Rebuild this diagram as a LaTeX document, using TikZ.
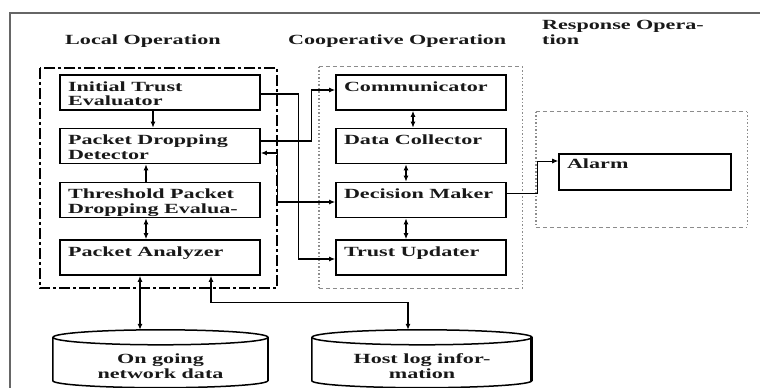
\documentclass[tikz,border=0pt]{standalone}
\usepackage{fontspec}
\setmainfont{Liberation Serif}[FakeStretch=1.58]
\usetikzlibrary{arrows.meta}
\tikzset{
  txt/.style={font=\bfseries\fontsize{14}{14.5}\selectfont, text=black!90},
  procbox/.style={draw, line width=1.6pt, inner xsep=8pt, inner ysep=0pt, minimum height=35pt, txt},
  conn/.style={line width=1.3pt},
  thinconn/.style={line width=0.9pt},
  tipend/.style={-{Latex[length=6pt,width=5pt]}},
  tipboth/.style={{Latex[length=6pt,width=5pt]}-{Latex[length=6pt,width=5pt]}},
  container/.style={draw=none, inner sep=0pt},
  localedge/.style={line width=1.8pt, dash pattern=on 11pt off 3pt on 3pt off 3pt},
  graydash/.style={draw=black!45, line width=1.1pt, dash pattern=on 4pt off 3pt},
  graydot/.style={draw=black!45, line width=1.4pt, dash pattern=on 1.5pt off 2pt},
  cylline/.style={line width=1.5pt},
  frame/.style={draw=black!60, line width=1.3pt},
  title/.style={txt, anchor=base west, inner sep=0pt, align=left},
}
\newcommand\boxtxt[2]{\parbox[c][35pt][t]{#1}{\raggedright\rule{0pt}{16pt}#2}}
\begin{document}
\begin{tikzpicture}[x=1pt,y=-1pt]
\useasboundingbox (0,0) rectangle (760,388);
% outer frame
\coordinate (fbl) at (10,388);
\coordinate (ftl) at (10,13);
\coordinate (ftr) at (760,13);
\draw[frame] (fbl) -- (ftl) -- (ftr);

% titles
\node[title] (tlocal) at (65,44) {Local Operation};
\node[title] (tcoop) at (288,44) {Cooperative Operation};
\node[title] (tresp) at (542,44) {Response Opera-\\tion};

% containers
\node[container, minimum width=237pt, minimum height=220pt] (local) at (158.5,178) {};
\draw[localedge] (local.north west) rectangle (local.south east);
\node[container, minimum width=203pt, minimum height=221pt] (coop) at (420.5,177.5) {};
\draw[graydash] (coop.north west) -- (coop.north east);
\draw[graydash] (coop.south west) -- (coop.south east);
\draw[graydot] (coop.north west) -- (coop.south west);
\draw[graydot] (coop.north east) -- (coop.south east);
\node[container, minimum width=211pt, minimum height=115pt] (resp) at (641.5,169.5) {};
\draw[graydash] (resp.north west) -- (resp.north east);
\draw[graydash] (resp.south west) -- (resp.south east);
\draw[graydot] (resp.north west) -- (resp.south west);
\draw[graydot] (resp.north east) -- (resp.south east);

% local boxes
\node[procbox, minimum width=200pt] (ITE) at (160,92.5) {\boxtxt{184pt}{Initial Trust\\Evaluator}};
\node[procbox, minimum width=200pt] (PDD) at (160,146) {\boxtxt{184pt}{Packet Dropping\\Detector}};
\node[procbox, minimum width=200pt] (TPDE) at (160,200) {\boxtxt{184pt}{Threshold Packet\\Dropping Evalua-}};
\node[procbox, minimum width=200pt] (PA) at (160,257.5) {\boxtxt{184pt}{Packet Analyzer}};

% cooperative boxes
\node[procbox, minimum width=170pt] (Comm) at (421,92.5) {\boxtxt{154pt}{Communicator}};
\node[procbox, minimum width=170pt] (DC) at (421,146) {\boxtxt{154pt}{Data Collector}};
\node[procbox, minimum width=170pt] (DM) at (421,200) {\boxtxt{154pt}{Decision Maker}};
\node[procbox, minimum width=170pt] (TU) at (421,257.5) {\boxtxt{154pt}{Trust Updater}};

% response box
\node[procbox, minimum width=172pt] (Alarm) at (645,172) {\parbox[c][36pt][t]{156pt}{\raggedright\rule{0pt}{14pt}Alarm}};
\draw[line width=2.6pt] ([xshift=-0.8pt]Alarm.north east) -- ([xshift=-0.8pt]Alarm.south east);

% cylinders
\node[txt, align=center, minimum width=215pt, minimum height=50pt, inner sep=0pt] (ongoing) at (160.5,362.5) {\rule{0pt}{17pt}On going\\network data};
\draw[cylline] (ongoing.north west) -- ([yshift=7pt]ongoing.south west)
  arc[start angle=180, end angle=360, x radius=107.5pt, y radius=7pt] -- (ongoing.north east);
\draw[cylline] (ongoing.north) ellipse[x radius=107.5pt, y radius=7.5pt];
\draw[line width=2.4pt] ([xshift=-0.5pt]ongoing.north east) -- ([xshift=-0.5pt,yshift=7pt]ongoing.south east);

\node[txt, align=center, minimum width=220pt, minimum height=50pt, inner sep=0pt] (host) at (422,362.5) {\rule{0pt}{17pt}Host log infor-\\mation};
\draw[cylline] (host.north west) -- ([yshift=7pt]host.south west)
  arc[start angle=180, end angle=360, x radius=110pt, y radius=7pt] -- (host.north east);
\draw[cylline] (host.north) ellipse[x radius=110pt, y radius=7.5pt];
\draw[line width=2.6pt] ([xshift=-0.5pt]host.north east) -- ([xshift=-0.5pt,yshift=7pt]host.south east);

\coordinate (ongtop) at ([yshift=7.5pt]ongoing.north);
\coordinate (hosttop) at ([xshift=-14pt,yshift=7.5pt]host.north);

% local vertical arrows
\draw[conn,tipend] ([xshift=-7pt]ITE.south) -- ([xshift=-7pt]PDD.north);
\draw[conn,tipend] ([xshift=-14pt]TPDE.north) -- ([xshift=-14pt]PDD.south);
\draw[conn,tipboth] ([xshift=-14pt]TPDE.south) -- ([xshift=-14pt]PA.north);
\draw[conn,tipboth] ([xshift=-20pt]PA.south) -- ([xshift=-20pt]PA.south |- ongtop);
\draw[conn,tipboth] ([xshift=51pt]PA.south) -- ++(0,27) -| (hosttop);

% cooperative vertical arrows
\draw[conn,tipboth] ([xshift=-8pt]Comm.south) -- ([xshift=-8pt]DC.north);
\draw[conn,tipboth] ([xshift=-15pt]DC.south) -- ([xshift=-15pt]DM.north);
\draw[conn,tipboth] ([xshift=-15pt]DM.south) -- ([xshift=-15pt]TU.north);

% cross connections
\draw[conn,tipend] ([yshift=-1.5pt]ITE.east) -- ++(38,0) |- ([yshift=-1.5pt]TU.west);
\draw[conn,tipend] ([yshift=5pt]PDD.east) -- ++(51,0) |- ([yshift=2.5pt]Comm.west);
\draw[conn,tipboth] ([yshift=-7pt]PDD.east) -- ++(17,0) |- ([yshift=-2pt]DM.west);
\draw[thinconn,tipend] ([yshift=7pt]DM.east) -- ++(31,0) |- ([yshift=11pt]Alarm.west);
\end{tikzpicture}
\end{document}
